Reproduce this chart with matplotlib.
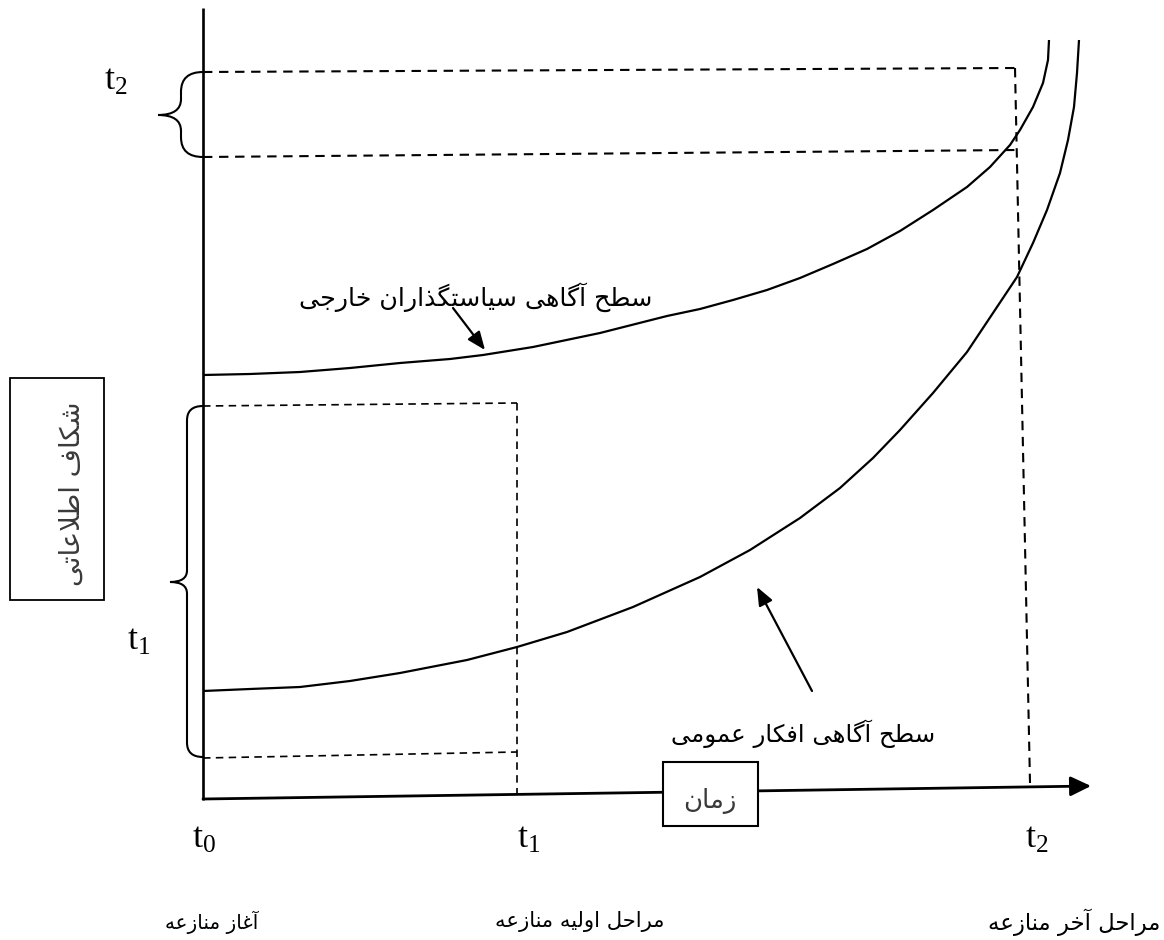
import matplotlib
matplotlib.use("Agg")
import matplotlib.pyplot as plt
from matplotlib.path import Path
from matplotlib.patches import PathPatch, Rectangle
from matplotlib import font_manager as fm
from matplotlib.ft2font import FT2Font

# ---------------- data (canvas units = pixels of the picture, y downward) ----------------
foreign_x = [203, 250, 300, 350, 400, 450, 483, 533, 600, 667, 700, 733, 767, 800, 833, 867,
             900, 933, 967, 990, 1010, 1020, 1033, 1043, 1048, 1049]
foreign_y = [375, 374, 372, 368, 363, 359, 355, 347, 333, 316, 309, 300, 290, 278, 264, 249,
             231, 210, 187, 167, 145, 130, 107, 83, 60, 40]

public_x = [203, 250, 300, 350, 400, 467, 517, 567, 633, 700, 750, 800, 840, 873, 900, 933,
            967, 993, 1017, 1033, 1047, 1060, 1068, 1074, 1077, 1079]
public_y = [691, 689, 687, 681, 673, 660, 647, 632, 607, 577, 550, 518, 488, 458, 430, 393,
            352, 313, 277, 243, 210, 173, 140, 107, 73, 40]

# dashed guide lines (t2 window, t1 window)
t2_top_x, t2_top_y = [203, 1015], [72, 68]
t2_bot_x, t2_bot_y = [203, 1016], [157, 150]
t2_vert_x, t2_vert_y = [1015, 1030], [68, 783]
t1_top_x, t1_top_y = [203, 517], [406, 403]
t1_bot_x, t1_bot_y = [203, 517], [758, 752]
t1_vert_x, t1_vert_y = [517, 517], [403, 794]

# axes
y_axis_x, y_axis_y = [203, 203], [8, 800]
x_axis_start, x_axis_tip = (203, 799), (1091, 786)

# braces
brace_upper = dict(x0=203, top=72, spine=181, tipx=158, tipy=115, bot=157)
brace_lower = dict(x0=203, top=406, spine=187, tipx=170, tipy=582, bot=757)

# annotation arrows (tail -> head)
arrow_foreign = ((453, 308), (485, 350))
arrow_public = ((812, 691), (757, 587))

# texts
label_foreign = "سطح آگاهی سیاستگذاران خارجی"
label_public = "سطح آگاهی افکار عمومی"
label_gap = "شکاف اطلاعاتی"
label_time = "زمان"
stage_labels = ["آغاز منازعه", "مراحل اولیه منازعه", "مراحل آخر منازعه"]
stage_x = [212, 580, 1074]
stage_y = 922
stage_w = [87, 160, 162]
tick_labels = ["0", "1", "2"]
tick_x = [204, 529, 1037]
tick_y = 838
side_tick_labels = ["2", "1"]
side_tick_x = [116, 139]
side_tick_y = [80, 640]

# ---------------- Persian shaping (presentation forms, visual order) ----------------
FORMS = {
    "\u0622": ("\uFE81", "\uFE82", None, None),
    "\u0627": ("\uFE8D", "\uFE8E", None, None),
    "\u0628": ("\uFE8F", "\uFE90", "\uFE91", "\uFE92"),
    "\u062A": ("\uFE95", "\uFE96", "\uFE97", "\uFE98"),
    "\u062C": ("\uFE9D", "\uFE9E", "\uFE9F", "\uFEA0"),
    "\u062D": ("\uFEA1", "\uFEA2", "\uFEA3", "\uFEA4"),
    "\u062E": ("\uFEA5", "\uFEA6", "\uFEA7", "\uFEA8"),
    "\u062F": ("\uFEA9", "\uFEAA", None, None),
    "\u0630": ("\uFEAB", "\uFEAC", None, None),
    "\u0631": ("\uFEAD", "\uFEAE", None, None),
    "\u0632": ("\uFEAF", "\uFEB0", None, None),
    "\u0633": ("\uFEB1", "\uFEB2", "\uFEB3", "\uFEB4"),
    "\u0634": ("\uFEB5", "\uFEB6", "\uFEB7", "\uFEB8"),
    "\u0637": ("\uFEC1", "\uFEC2", "\uFEC3", "\uFEC4"),
    "\u0639": ("\uFEC9", "\uFECA", "\uFECB", "\uFECC"),
    "\u063A": ("\uFECD", "\uFECE", "\uFECF", "\uFED0"),
    "\u0641": ("\uFED1", "\uFED2", "\uFED3", "\uFED4"),
    "\u0644": ("\uFEDD", "\uFEDE", "\uFEDF", "\uFEE0"),
    "\u0645": ("\uFEE1", "\uFEE2", "\uFEE3", "\uFEE4"),
    "\u0646": ("\uFEE5", "\uFEE6", "\uFEE7", "\uFEE8"),
    "\u0647": ("\uFEE9", "\uFEEA", "\uFEEB", "\uFEEC"),
    "\u0648": ("\uFEED", "\uFEEE", None, None),
    "\u06A9": ("\uFB8E", "\uFB8F", "\uFB90", "\uFB91"),
    "\u06AF": ("\uFB92", "\uFB93", "\uFB94", "\uFB95"),
    "\u06CC": ("\uFBFC", "\uFBFD", "\uFBFE", "\uFBFF"),
}
LAMALEF = {"\u0627": ("\uFEFB", "\uFEFC"), "\u0622": ("\uFEF5", "\uFEF6")}


def joins_next(c):
    return c in FORMS and FORMS[c][2] is not None


def shape(text):
    chars = list(text)
    n = len(chars)
    res = []
    i = 0
    while i < n:
        c = chars[i]
        if c not in FORMS:
            res.append(c)
            i += 1
            continue
        prev = chars[i - 1] if i > 0 else None
        pj = prev is not None and joins_next(prev)
        if c == "\u0644" and i + 1 < n and chars[i + 1] in LAMALEF:
            iso, fin = LAMALEF[chars[i + 1]]
            res.append(fin if pj else iso)
            i += 2
            continue
        nxt = chars[i + 1] if i + 1 < n else None
        nj = joins_next(c) and nxt is not None and nxt in FORMS
        iso, fin, ini, med = FORMS[c]
        if pj and nj:
            g = med
        elif pj:
            g = fin
        elif nj:
            g = ini
        else:
            g = iso
        res.append(g)
        i += 1
    return "".join(reversed(res))


def font_covers(family, chars):
    try:
        path = fm.findfont(fm.FontProperties(family=family), fallback_to_default=False)
        cmap = FT2Font(path).get_charmap()
    except Exception:
        return False
    return all(ord(ch) in cmap for ch in chars)


all_text = label_foreign + label_public + label_gap + label_time + "".join(stage_labels)
needed = set(shape(all_text)) - {" "}
FA_FONT = None
for fam in ["DejaVu Serif", "Liberation Serif", "DejaVu Sans", "Noto Sans"]:
    if font_covers(fam, needed):
        FA_FONT = fam
        break
if FA_FONT is None:
    FA_FONT = "DejaVu Sans"

    def shape(text):  # noqa: F811
        return text

plt.rcParams["mathtext.fontset"] = "custom"
plt.rcParams["mathtext.rm"] = "Liberation Serif"
plt.rcParams["mathtext.it"] = "Liberation Serif"

# ---------------- drawing ----------------
fig = plt.figure(figsize=(11.64, 9.4), dpi=100)
ax = fig.add_axes([0, 0, 1, 1])
ax.set_xlim(0, 1164)
ax.set_ylim(940, 0)
ax.axis("off")

K = "black"
dash = (0, (4.5, 3.2))

# axes lines
ax.plot(y_axis_x, y_axis_y, color=K, lw=1.9, solid_capstyle="butt")
ax.annotate("", xy=x_axis_tip, xytext=x_axis_start,
            arrowprops=dict(arrowstyle="-|>,head_length=1.25,head_width=0.6",
                            color=K, lw=2.0, shrinkA=0, shrinkB=0))

# dashed guides
for xs, ys in [(t2_top_x, t2_top_y), (t2_bot_x, t2_bot_y), (t2_vert_x, t2_vert_y)]:
    ax.plot(xs, ys, color=K, lw=1.5, linestyle=dash)
for xs, ys in [(t1_top_x, t1_top_y), (t1_bot_x, t1_bot_y), (t1_vert_x, t1_vert_y)]:
    ax.plot(xs, ys, color=K, lw=1.2, linestyle=dash)

# curves
ax.plot(foreign_x, foreign_y, color=K, lw=1.6, solid_joinstyle="round", solid_capstyle="butt")
ax.plot(public_x, public_y, color=K, lw=1.6, solid_joinstyle="round", solid_capstyle="butt")


# braces
def brace(b):
    x0, top, sp, tx, ty, bot = b["x0"], b["top"], b["spine"], b["tipx"], b["tipy"], b["bot"]
    r = (x0 - sp) * 0.9
    verts = [(x0, top), (sp, top), (sp, top + r),
             (sp, ty - r * 0.8), (sp, ty), (tx, ty),
             (sp, ty), (sp, ty + r * 0.8),
             (sp, bot - r), (sp, bot), (x0, bot)]
    codes = [Path.MOVETO, Path.CURVE3, Path.CURVE3,
             Path.LINETO, Path.CURVE3, Path.CURVE3,
             Path.CURVE3, Path.CURVE3,
             Path.LINETO, Path.CURVE3, Path.CURVE3]
    ax.add_patch(PathPatch(Path(verts, codes), fill=False, edgecolor=K, lw=1.5))


brace(brace_upper)
brace(brace_lower)

# pointer arrows
for tail, head in [arrow_foreign, arrow_public]:
    ax.annotate("", xy=head, xytext=tail,
                arrowprops=dict(arrowstyle="-|>,head_length=1.1,head_width=0.45",
                                color=K, lw=1.6, shrinkA=0, shrinkB=0))

# boxes
ax.add_patch(Rectangle((663, 762), 95, 64, facecolor="white", edgecolor=K, lw=1.5, zorder=5))
ax.add_patch(Rectangle((10, 378), 94, 222, facecolor="white", edgecolor=K, lw=1.3, zorder=5))

renderer = fig.canvas.get_renderer()


def fit(t, w=None, h=None, boost=1.0):
    bb = t.get_window_extent(renderer)
    if w is not None:
        t.set_fontsize(t.get_fontsize() * w / bb.width * boost)
    elif h is not None:
        t.set_fontsize(t.get_fontsize() * h / bb.height * boost)


fa = dict(family=[FA_FONT, "DejaVu Sans"], ha="center", va="center", color=K)
B = 1.07

t = ax.text(476, 297, shape(label_foreign), fontsize=16, **fa)
fit(t, w=330, boost=B)
t = ax.text(803, 734, shape(label_public), fontsize=16, **fa)
fit(t, w=247, boost=B)
for s, x, w in zip(stage_labels, stage_x, stage_w):
    t = ax.text(x, stage_y, shape(s), fontsize=14, **fa)
    fit(t, w=w, boost=B)

gray = dict(family=["DejaVu Sans"], ha="center", va="center", color="#3a3a3a", zorder=6)
t = ax.text(710, 801, shape(label_time), fontsize=16, **gray)
fit(t, w=50, boost=B)
t = ax.text(73, 494, shape(label_gap), fontsize=16, rotation=90, **gray)
fit(t, h=184)

for lab, x in zip(tick_labels, tick_x):
    ax.text(x, tick_y, r"$\mathrm{t}_{%s}$" % lab, fontsize=26, ha="center", va="center", color=K)
for lab, x, y in zip(side_tick_labels, side_tick_x, side_tick_y):
    ax.text(x, y, r"$\mathrm{t}_{%s}$" % lab, fontsize=26, ha="center", va="center", color=K)

fig.savefig("out.png", dpi=100, facecolor="white")
